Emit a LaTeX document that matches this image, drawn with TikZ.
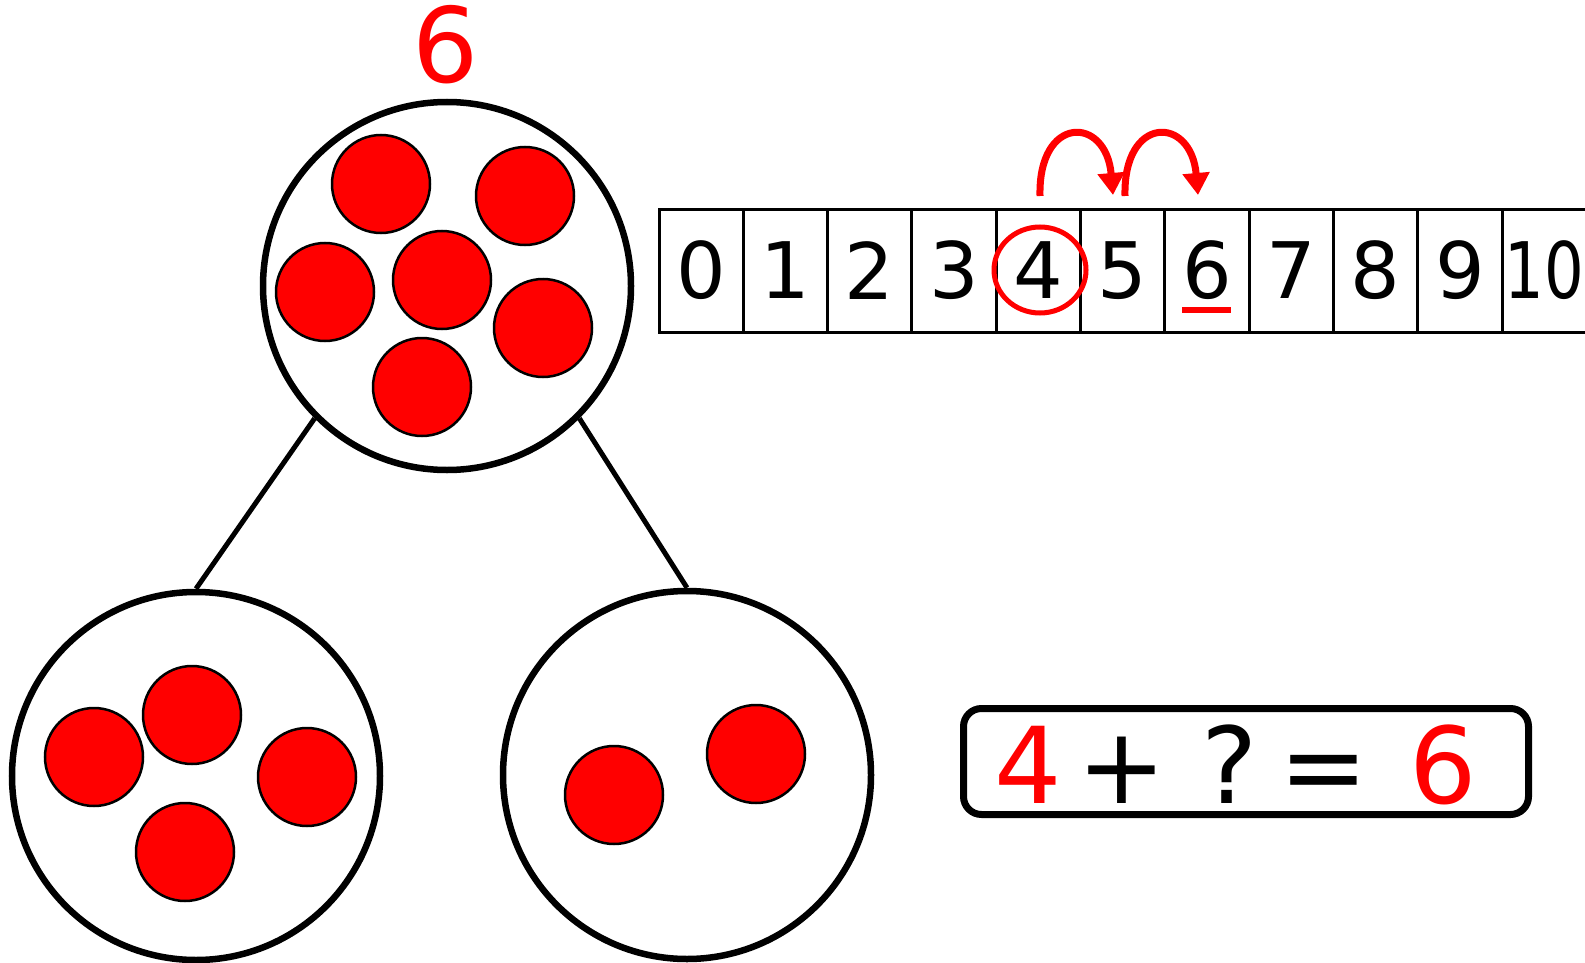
\documentclass[tikz,border=0pt]{standalone}
\usepackage{fontspec}
\setmainfont{DejaVu Sans}
\usetikzlibrary{shapes.geometric,arrows.meta}
\newcommand\numfnt{\fontsize{78}{80}\selectfont}
\newcommand\eqfnt{\fontsize{106}{110}\selectfont}
\newcommand\bigfnt{\fontsize{104}{108}\selectfont}
\begin{document}
\begin{tikzpicture}[x=1pt,y=-1pt,
  bigring/.style={circle, draw, line width=6.5, minimum size=368, inner sep=0},
  reddot/.style={circle, draw, fill=red, line width=2.5, minimum size=98, inner sep=0},
  cell/.style={rectangle, draw, line width=3, minimum width=84.3, minimum height=123, inner sep=0, font=\numfnt},
  connector/.style={line width=5},
  hop/.style={red, line width=7, -{Triangle[width=26pt,length=22pt]}},
  eqtext/.style={anchor=base, font=\eqfnt}]
\useasboundingbox (0,0) rectangle (1585,963);
\clip (0,0) rectangle (1585,963);
% part-whole circles
\node[bigring] (top) at (447,286) {};
\node[bigring] (left) at (196,776) {};
\node[bigring] (right) at (687,775) {};
\draw[connector] (top.-135) -- (left.north);
\draw[connector] (top.-45) -- (right.north);
\node[anchor=base, font=\bigfnt, text=red] (six) at (446,83) {6};
% dots in top circle
\node[reddot] (t1) at (381,184) {};
\node[reddot] (t2) at (525,196) {};
\node[reddot] (t3) at (325,292) {};
\node[reddot] (t4) at (442,280) {};
\node[reddot] (t5) at (543,328) {};
\node[reddot] (t6) at (422,387) {};
% dots in left circle
\node[reddot] (l1) at (94,757) {};
\node[reddot] (l2) at (192,715) {};
\node[reddot] (l3) at (307,777) {};
\node[reddot] (l4) at (185,852) {};
% dots in right circle
\node[reddot] (r1) at (614,795) {};
\node[reddot] (r2) at (756,754) {};
% number line
\foreach \i in {0,...,9}
  \node[cell] (c\i) at ({659+84.3*(\i+0.5)},270.5) {\i};
\node[cell] (c10) at ({659+84.3*10.5},270.5) {\scalebox{0.8}[1]{10}};
\node[ellipse, draw=red, line width=5, minimum width=92, minimum height=86, inner sep=0] (ring4) at (1040,270) {};
\coordinate (u1) at (1182,310);
\coordinate (u2) at (1231,310);
\draw[red, line width=6] (u1) -- (u2);
% hops
\coordinate (h1s) at (1040,196);
\coordinate (h1e) at (1113,195);
\coordinate (h2s) at (1125,196);
\coordinate (h2e) at (1198,195);
\draw[hop] (h1s) .. controls (1038,115) and (1106,115) .. (h1e);
\draw[hop] (h2s) .. controls (1123,115) and (1191,115) .. (h2e);
% equation
\node[draw, line width=7, rounded corners=18, minimum width=565, minimum height=106, inner sep=0] (eq) at (1246,761.5) {};
\node[eqtext, text=red] (e4) at (1028,803) {4};
\node[eqtext] (eplus) at (1122,803) {+};
\node[eqtext] (eq?) at (1230,803) {?};
\node[eqtext] (eeq) at (1324,803) {=};
\node[eqtext, text=red] (e6) at (1443,803) {6};
\end{tikzpicture}
\end{document}
